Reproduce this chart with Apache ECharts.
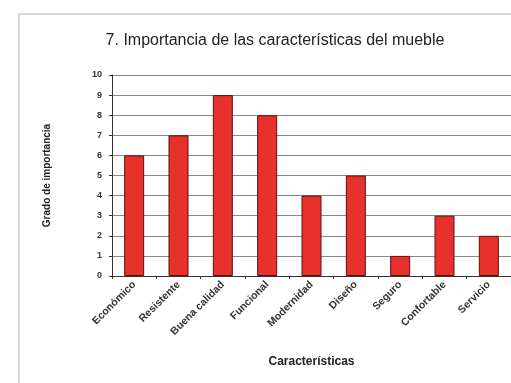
<!DOCTYPE html>
<html>
<head>
<meta charset="utf-8">
<script src="https://cdn.jsdelivr.net/npm/echarts@6/dist/echarts.min.js"></script>
<style>
  html, body { margin: 0; padding: 0; background: #fff; }
  #chart { width: 511px; height: 383px; }
</style>
</head>
<body>
<div id="chart"></div>
<script>
// Datos del gráfico
const categories = ['Económico', 'Resistente', 'Buena calidad', 'Funcional', 'Modernidad',
  'Diseño', 'Seguro', 'Confortable', 'Servicio'];
const importance = [6, 7, 9, 8, 4, 5, 1, 3, 2];
const yTicks = [0, 1, 2, 3, 4, 5, 6, 7, 8, 9, 10];

const font = 'Liberation Sans, Arial, sans-serif';

const chart = echarts.init(document.getElementById('chart'));

chart.setOption({
  animation: false,
  backgroundColor: '#fff',
  title: {
    text: '7. Importancia de las características del mueble',
    left: 270,
    top: 28,
    textAlign: 'center',
    textStyle: { fontFamily: font, fontSize: 16, fontWeight: 'normal', color: '#222' }
  },
  graphic: [{
    type: 'rect',
    shape: { x: 19, y: 14, width: 520, height: 400 },
    style: { fill: 'none', stroke: '#ccc', lineWidth: 1.5 },
    silent: true
  }],
  grid: { left: 112, top: 75, width: 404, height: 201 },
  xAxis: {
    type: 'category',
    data: categories,
    name: 'Características',
    nameLocation: 'middle',
    nameGap: 80,
    nameTextStyle: { fontFamily: font, fontSize: 12, fontWeight: 'bold', color: '#222' },
    axisLine: { lineStyle: { color: '#333', width: 1 } },
    axisTick: { show: true, length: 3, lineStyle: { color: '#333' } },
    axisLabel: { rotate: 45, margin: 7, fontFamily: font, fontSize: 10.5, fontWeight: 'bold', color: '#333', interval: 0 }
  },
  yAxis: {
    type: 'value',
    min: yTicks[0],
    max: yTicks[yTicks.length - 1],
    interval: 1,
    name: 'Grado de importancia',
    nameLocation: 'middle',
    nameGap: 60,
    nameTextStyle: { fontFamily: font, fontSize: 10, fontWeight: 'bold', color: '#222' },
    axisLine: { show: true, lineStyle: { color: '#333', width: 1 } },
    axisTick: { show: true, length: 3, lineStyle: { color: '#333' } },
    axisLabel: { margin: 10, fontFamily: font, fontSize: 9, fontWeight: 'bold', color: '#333' },
    splitLine: { lineStyle: { color: '#888', width: 1 } }
  },
  series: [{
    type: 'bar',
    data: importance,
    barWidth: 20,
    itemStyle: { color: '#e8302c', borderColor: '#5a1010', borderWidth: 1 }
  }]
});
</script>
</body>
</html>
